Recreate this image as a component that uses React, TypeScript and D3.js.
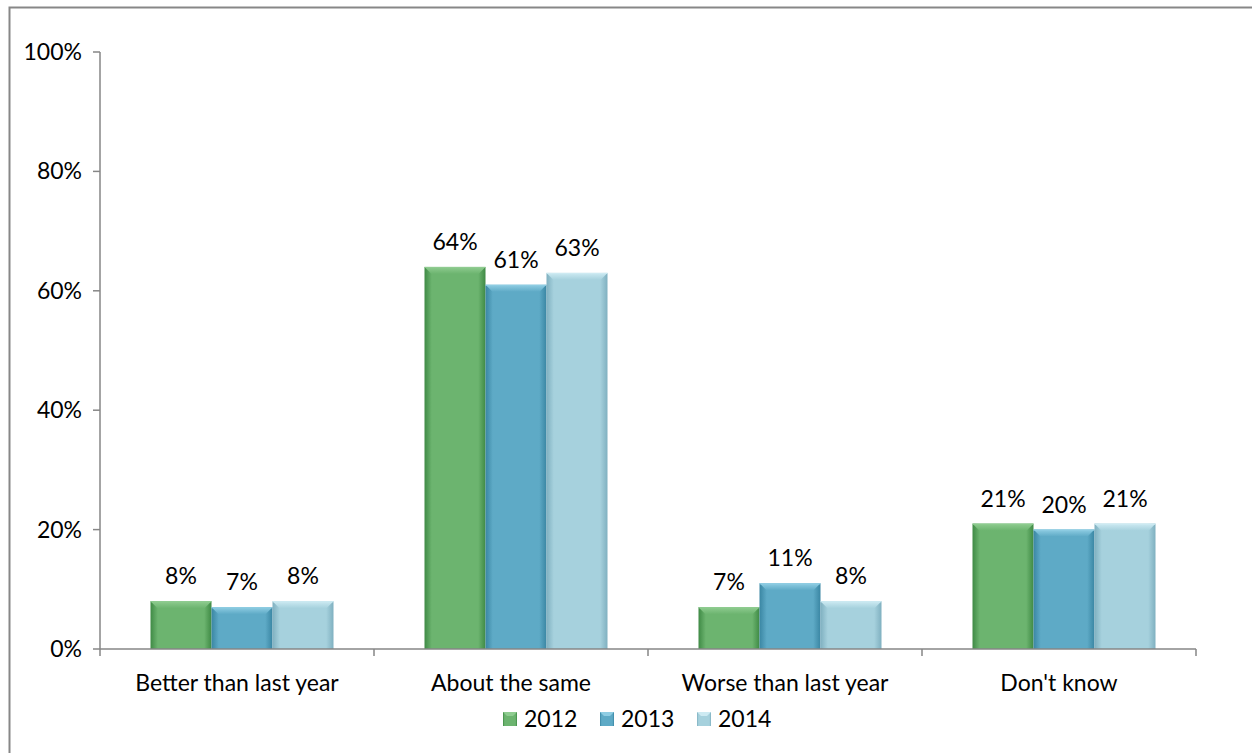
import React from "react";
import * as d3 from "d3";

const categories = ["Better than last year", "About the same", "Worse than last year", "Don't know"];
const seriesNames = ["2012", "2013", "2014"];
const values2012 = [8, 64, 7, 21];
const values2013 = [7, 61, 11, 20];
const values2014 = [8, 63, 8, 21];
const yTicks = [0, 20, 40, 60, 80, 100];

const seriesValues = [values2012, values2013, values2014];
const colors = [
  { main: "#6cb46f", dark: "#3f8a45", light: "#8fcc90" },
  { main: "#5eaac6", dark: "#3a86a3", light: "#8fcde3" },
  { main: "#a6d1dd", dark: "#7fb0c0", light: "#cdeaf2" },
];

const W = 1252, H = 753;
const left = 100, right = 1196, top = 52, bottom = 649;
const font = "Lato, 'Open Sans', sans-serif";
const fs = 23;

export default function App() {
  const x = d3.scaleBand<string>().domain(categories).range([left, right]);
  const inner = d3.scaleBand<string>().domain(seriesNames).range([0, 183]).padding(0);
  const y = d3.scaleLinear().domain([0, 100]).range([bottom, top]);
  const shift = 5;
  const bw = inner.bandwidth();

  return (
    <svg width={W} height={H} style={{ position: "absolute", left: 0, top: 0, background: "#fff" }}>
      <defs>
        {colors.map((c, i) => (
          <linearGradient key={i} id={`g${i}`} x1="0" x2="1" y1="0" y2="0">
            <stop offset="0" stopColor={c.dark} />
            <stop offset="0.12" stopColor={c.main} />
            <stop offset="0.88" stopColor={c.main} />
            <stop offset="1" stopColor={c.dark} />
          </linearGradient>
        ))}
        {colors.map((c, i) => (
          <linearGradient key={"t" + i} id={`t${i}`} x1="0" x2="0" y1="0" y2="1">
            <stop offset="0" stopColor={c.light} />
            <stop offset="1" stopColor={c.main} />
          </linearGradient>
        ))}
      </defs>
      <rect x={9.5} y={7.5} width={W + 20} height={H + 20} fill="none" stroke="#878787" strokeWidth={2} />

      {/* y axis */}
      <line x1={left} x2={left} y1={top} y2={bottom} stroke="#868686" strokeWidth={1.5} />
      {yTicks.map((t) => (
        <g key={t}>
          <line x1={left - 7} x2={left} y1={y(t)} y2={y(t)} stroke="#868686" strokeWidth={1.5} />
          <text x={82} y={y(t)} dy="0.35em" textAnchor="end" fontFamily={font} fontSize={fs} fill="#000">
            {t}%
          </text>
        </g>
      ))}

      {/* bars */}
      {categories.map((cat, ci) => {
        const gx = (x(cat) as number) + (x.bandwidth() - 183) / 2 + shift;
        return seriesNames.map((s, si) => {
          const v = seriesValues[si][ci];
          const bx = gx + (inner(s) as number);
          const by = y(v);
          const bh = bottom - by;
          const bev = Math.min(7, bh / 2);
          return (
            <g key={cat + s}>
              <rect x={bx} y={by} width={bw} height={bh} fill={`url(#g${si})`} />
              <polygon
                points={`${bx},${by} ${bx + bw},${by} ${bx + bw - 7},${by + bev} ${bx + 7},${by + bev}`}
                fill={`url(#t${si})`}
              />
              <line x1={bx} x2={bx + bw} y1={by + 0.5} y2={by + 0.5} stroke={colors[si].light} strokeWidth={1} />
              <text x={bx + bw / 2} y={by - 17} textAnchor="middle" fontFamily={font} fontSize={fs} fill="#000">
                {v}%
              </text>
            </g>
          );
        });
      })}

      {/* x axis */}
      <line x1={left} x2={right} y1={bottom} y2={bottom} stroke="#868686" strokeWidth={1.5} />
      {[...categories.map((c) => x(c) as number), right].map((t, i) => (
        <line key={i} x1={t} x2={t} y1={bottom} y2={bottom + 7} stroke="#868686" strokeWidth={1.5} />
      ))}
      {categories.map((c) => (
        <text key={c} x={(x(c) as number) + x.bandwidth() / 2} y={683} dy="0.35em" textAnchor="middle" fontFamily={font} fontSize={fs} fill="#000">
          {c}
        </text>
      ))}

      {/* legend */}
      {seriesNames.map((s, i) => {
        const lx = 503 + i * 97;
        return (
          <g key={s}>
            <rect x={lx} y={712} width={14} height={14} fill={`url(#g${i})`} />
            <polygon points={`${lx},712 ${lx + 14},712 ${lx + 10},716 ${lx + 4},716`} fill={colors[i].light} />
            <text x={lx + 21} y={719} dy="0.35em" fontFamily={font} fontSize={fs} fill="#000">
              {s}
            </text>
          </g>
        );
      })}
    </svg>
  );
}
